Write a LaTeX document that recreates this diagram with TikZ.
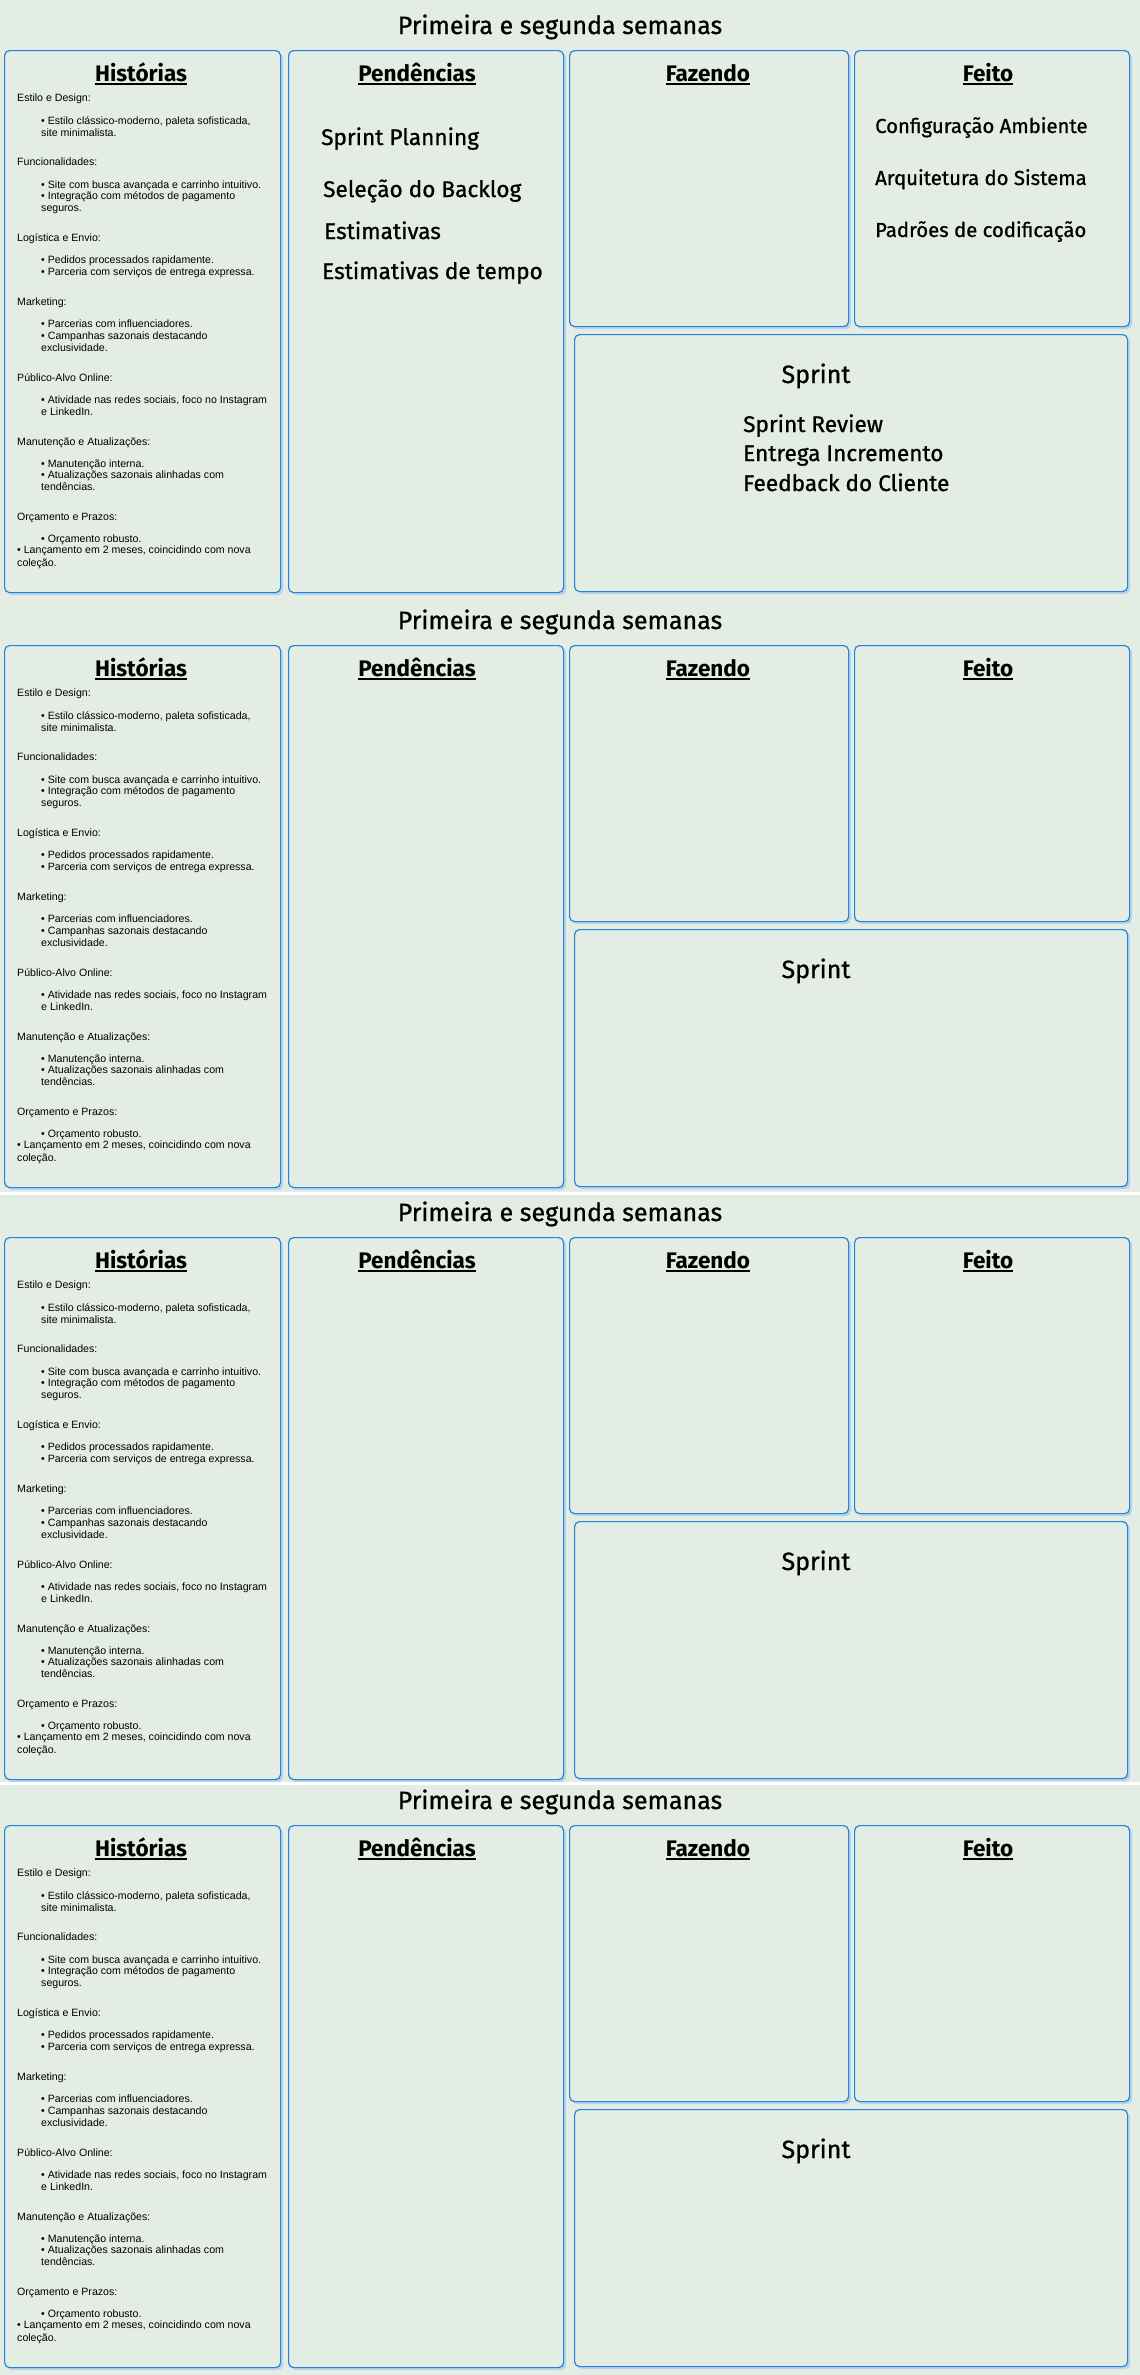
\documentclass[tikz,border=0pt]{standalone}
\usepackage{fontspec}
\setmainfont{Liberation Sans}
\newfontfamily\comic[FakeBold=0.9]{Fira Sans}
\newfontfamily\comichd{Fira Sans}
\usetikzlibrary{shadows}
\definecolor{bgc}{RGB}{227,237,228}
\definecolor{edge}{RGB}{40,130,218}
\definecolor{shade}{RGB}{185,211,236}
\tikzset{
 card/.style={draw=edge, line width=1.2pt, fill=bgc, rounded corners=5pt, anchor=north west, inner sep=0pt,
   drop shadow={shadow xshift=2.5pt, shadow yshift=-2.5pt, fill=shade, opacity=1}},
 ttl/.style={font=\comic\fontsize{25}{30}\selectfont, inner sep=0pt, anchor=base},
 colhead/.style={font=\comichd\bfseries\fontsize{22.5}{27}\selectfont, inner sep=0pt, anchor=base},
 small/.style={font=\fontsize{10.6}{12}\selectfont, anchor=base west, inner sep=0pt},
 item/.style={font=\comic\fontsize{22.6}{28}\selectfont, anchor=base west, inner sep=0pt},
 doneitem/.style={font=\comic\fontsize{20.3}{24}\selectfont, anchor=base west, inner sep=0pt},
 uline/.style={line width=2.4pt, black},
}
\newcommand\hstline[4]{\node[small] (#1) at (#2,#3) {#4};}
\newcommand\ulhead[4]{%
  \node[colhead] (#1) at (#2,#3) {#4};
  \draw[uline] ([yshift=-3pt]#1.base west) -- ([yshift=-3pt]#1.base east);}
\newcommand\kpanel[2]{%
\begin{scope}[shift={(0,#1)}]
 \node[ttl] (#2title) at (560,34) {Primeira e segunda semanas};
 \node[card, minimum width=276pt, minimum height=542pt] (#2hist) at (4,50) {};
 \node[card, minimum width=275pt, minimum height=542pt] (#2pend) at (288,50) {};
 \node[card, minimum width=279pt, minimum height=276pt] (#2faz) at (569,50) {};
 \node[card, minimum width=275pt, minimum height=276pt] (#2feito) at (854,50) {};
 \node[card, minimum width=553pt, minimum height=257pt] (#2sprint) at (574,334) {};
 \ulhead{#2hh}{141}{81}{Histórias}
 \ulhead{#2ph}{417}{81}{Pendências}
 \ulhead{#2fh}{708}{81}{Fazendo}
 \ulhead{#2dh}{988}{81}{Feito}
 \node[ttl] (#2sh) at (816,383) {Sprint};
 \hstline{#2a1}{17}{101}{Estilo e Design:}
 \hstline{#2a2}{41}{124}{• Estilo clássico-moderno, paleta sofisticada,}
 \hstline{#2a3}{41}{136}{site minimalista.}
 \hstline{#2b1}{17}{165}{Funcionalidades:}
 \hstline{#2b2}{41}{188}{• Site com busca avançada e carrinho intuitivo.}
 \hstline{#2b3}{41}{199}{• Integração com métodos de pagamento}
 \hstline{#2b4}{41}{211}{seguros.}
 \hstline{#2c1}{17}{241}{Logística e Envio:}
 \hstline{#2c2}{41}{263}{• Pedidos processados rapidamente.}
 \hstline{#2c3}{41}{275}{• Parceria com serviços de entrega expressa.}
 \hstline{#2d1}{17}{305}{Marketing:}
 \hstline{#2d2}{41}{327}{• Parcerias com influenciadores.}
 \hstline{#2d3}{41}{339}{• Campanhas sazonais destacando}
 \hstline{#2d4}{41}{351}{exclusividade.}
 \hstline{#2e1}{17}{381}{Público-Alvo Online:}
 \hstline{#2e2}{41}{403}{• Atividade nas redes sociais, foco no Instagram}
 \hstline{#2e3}{41}{415}{e LinkedIn.}
 \hstline{#2f1}{17}{445}{Manutenção e Atualizações:}
 \hstline{#2f2}{41}{467}{• Manutenção interna.}
 \hstline{#2f3}{41}{478}{• Atualizações sazonais alinhadas com}
 \hstline{#2f4}{41}{490}{tendências.}
 \hstline{#2g1}{17}{520}{Orçamento e Prazos:}
 \hstline{#2g2}{41}{542}{• Orçamento robusto.}
 \hstline{#2g3}{17}{553}{• Lançamento em 2 meses, coincidindo com nova}
 \hstline{#2g4}{17}{566}{coleção.}
\end{scope}}
\begin{document}
\begin{tikzpicture}[x=1pt,y=-1pt]
\fill[bgc] (0,0) rectangle (1140,2375);
\useasboundingbox (0,0) rectangle (1140,2375);
\kpanel{0}{p1}
\kpanel{595}{p2}
\kpanel{1187}{p3}
\kpanel{1775}{p4}
\fill[white] (0,1192) rectangle (1140,1194.5);
\fill[white] (0,1782) rectangle (1140,1784.5);
% panel 1 contents
\node[item] (plan) at (321,145) {Sprint Planning};
\node[item] (sel) at (323,197) {Seleção do Backlog};
\node[item] (est) at (324,239) {Estimativas};
\node[item] (estt) at (322,279) {Estimativas de tempo};
\node[doneitem] (conf) at (875,133) {Configuração Ambiente};
\node[doneitem] (arq) at (875,185) {Arquitetura do Sistema};
\node[doneitem] (pad) at (875,237) {Padrões de codificação};
\node[item] (rev) at (743,432) {Sprint Review};
\node[item] (entr) at (743,461) {Entrega Incremento};
\node[item] (feed) at (743,491) {Feedback do Cliente};
\end{tikzpicture}
\end{document}
